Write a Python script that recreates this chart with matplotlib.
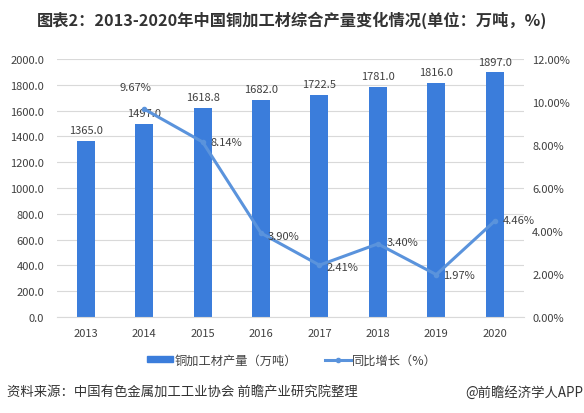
import numpy as np
import matplotlib.pyplot as plt
from matplotlib.ticker import FuncFormatter
from matplotlib.patches import Patch
from matplotlib.lines import Line2D

plt.rcParams['font.family'] = ['Noto Sans CJK SC', 'DejaVu Sans']

# data
years = ['2013', '2014', '2015', '2016', '2017', '2018', '2019', '2020']
output = [1365.0, 1497.0, 1618.8, 1682.0, 1722.5, 1781.0, 1816.0, 1897.0]
growth_years = ['2014', '2015', '2016', '2017', '2018', '2019', '2020']
growth = [9.67, 8.14, 3.90, 2.41, 3.40, 1.97, 4.46]

bar_color = '#3b7ddb'
line_color = '#5a93dc'
text_color = '#404040'

fig = plt.figure(figsize=(5.84, 4.14), dpi=100)
ax = fig.add_axes([0.097, 0.232, 0.800, 0.623])
ax2 = ax.twinx()

x = np.arange(len(years))
ax.bar(x, output, width=0.31, color=bar_color, zorder=2)
for xi, v in zip(x, output):
    ax.text(xi, v + 45, '{:.1f}'.format(v), ha='center', va='bottom',
            fontsize=8, color=text_color)

gx = [years.index(y) for y in growth_years]
ax2.plot(gx, growth, color=line_color, lw=2.2, marker='o', ms=3,
         zorder=3)
# label offsets (points)
offsets = [(-6, 16), (6, 0), (5, -2), (5, -1), (6, 1), (5, 0), (6, 1)]
for xi, v, (dx, dy) in zip(gx, growth, offsets):
    ax2.annotate('{:.2f}%'.format(v), (xi, v), xytext=(dx, dy),
                 textcoords='offset points', ha='left' if dx > 0 else 'center',
                 va='center', fontsize=8, color=text_color)

# axes
ax.set_xlim(-0.5, len(years) - 0.5)
ax.set_ylim(0, 2000)
ax.set_yticks(np.arange(0, 2001, 200))
ax.yaxis.set_major_formatter(FuncFormatter(lambda v, p: '{:.1f}'.format(v)))
ax2.set_ylim(0, 12)
ax2.set_yticks(np.arange(0, 12.1, 2))
ax2.yaxis.set_major_formatter(FuncFormatter(lambda v, p: '{:.2f}%'.format(v)))
ax.set_xticks(x)
ax.set_xticklabels(years)
ax.grid(axis='y', color='#d9d9d9', lw=0.8, zorder=0)
ax.set_axisbelow(True)
for a in (ax, ax2):
    for s in ['top', 'right', 'left', 'bottom']:
        a.spines[s].set_visible(False)
    a.tick_params(length=0, labelsize=8, colors=text_color)
ax.spines['bottom'].set_visible(True)
ax.spines['bottom'].set_color('#d9d9d9')
ax.tick_params(axis='x', pad=8)
ax.tick_params(axis='y', pad=9)
ax2.tick_params(axis='y', pad=6)

# legend
handles = [Patch(color=bar_color),
           Line2D([], [], color=line_color, lw=2.2, marker='o', ms=3)]
fig.legend(handles, ['铜加工材产量（万吨）', '同比增长（%）'],
           loc='center', bbox_to_anchor=(0.5, 0.128), ncol=2, frameon=False,
           fontsize=8.8, handlelength=2.1, handleheight=0.45,
           handletextpad=0.1, columnspacing=2.3, labelcolor=text_color)

# title and footer
fig.text(0.5, 0.952, '图表2：2013-2020年中国铜加工材综合产量变化情况(单位：万吨，%)',
         ha='center', va='center', fontsize=11.7, fontweight='bold', color='#333333')
fig.text(0.012, 0.051, '资料来源：中国有色金属加工工业协会 前瞻产业研究院整理',
         ha='left', va='center', fontsize=9.6, color='#333333')
fig.text(0.998, 0.051, '@前瞻经济学人APP', ha='right', va='center',
         fontsize=9.6, color='#333333')

plt.savefig('out.png', dpi=100)
